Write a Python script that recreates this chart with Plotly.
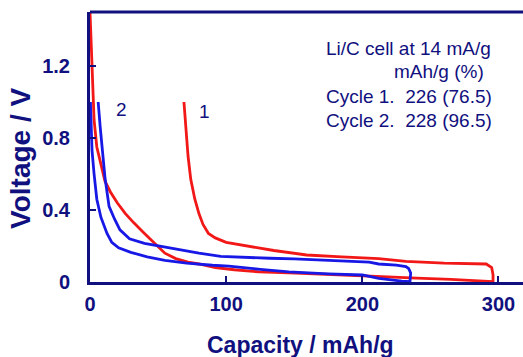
import plotly.graph_objects as go

# Cycle 1 (red): discharge from open circuit down to 0 V, then charge back up
c1_cap = [0, 1, 2, 3, 5, 8, 11, 15, 20, 26, 32, 40, 47, 55, 63, 72, 80, 92, 106,
          124, 151, 180, 212, 240, 265, 280, 294, 296,
          296, 295, 291, 260, 232, 212, 185, 159, 135, 124, 108, 100, 92, 87,
          83, 80, 77, 74, 72, 70.5, 69]
c1_volt = [1.5, 1.3, 1.1, 0.9, 0.75, 0.65, 0.56, 0.5, 0.44, 0.38, 0.33, 0.27, 0.22,
           0.16, 0.13, 0.11, 0.1, 0.08, 0.068, 0.056, 0.05, 0.04, 0.028, 0.022,
           0.015, 0.01, 0.003, 0.002,
           0.04, 0.08, 0.1, 0.105, 0.115, 0.13, 0.14, 0.15, 0.175, 0.19, 0.21,
           0.22, 0.245, 0.27, 0.32, 0.38, 0.46, 0.57, 0.7, 0.85, 1.0]

# Cycle 2 (blue)
c2_cap = [0.3, 1, 1.5, 3, 5, 8, 12.5, 16, 21, 30, 42, 55, 71, 90, 102, 125, 146,
          175, 200, 212, 222, 229, 235,
          235.5, 234, 232, 225, 212, 205, 180, 150, 132, 108, 96, 80, 59, 40,
          29, 22, 18, 14, 11, 9, 7.5, 6]
c2_volt = [1.0, 0.85, 0.73, 0.6, 0.46, 0.36, 0.27, 0.22, 0.19, 0.165, 0.14, 0.12,
           0.105, 0.093, 0.088, 0.07, 0.056, 0.045, 0.039, 0.02, 0.01, 0.005, 0.002,
           0.05, 0.075, 0.085, 0.094, 0.1, 0.11, 0.12, 0.128, 0.132, 0.14, 0.142,
           0.16, 0.19, 0.215, 0.24, 0.29, 0.35, 0.42, 0.58, 0.73, 0.86, 1.0]

x_ticks = [0, 100, 200, 300]
y_ticks = [0, 0.4, 0.8, 1.2]
y_tick_text = ["0", "0.4", "0.8", "1.2"]

x_title = "Capacity / mAh/g"
y_title = "Voltage / V"
info_lines = ["Li/C cell at 14 mA/g", "mAh/g (%)",
              "Cycle 1.  226 (76.5)", "Cycle 2.  228 (96.5)"]

NAVY = "#10107e"
RED = "#f21818"
BLUE = "#1818e6"
FONT = "Liberation Sans, Arial, sans-serif"

fig = go.Figure()
fig.add_trace(go.Scatter(x=c1_cap, y=c1_volt, mode="lines",
                         line=dict(color=RED, width=2.8), hoverinfo="skip"))
fig.add_trace(go.Scatter(x=c2_cap, y=c2_volt, mode="lines",
                         line=dict(color=BLUE, width=2.8), hoverinfo="skip"))

tick_font = dict(family=FONT, size=20, color=NAVY, weight="bold")

fig.update_layout(
    width=523, height=357,
    margin=dict(l=90, r=0, t=12, b=75),
    paper_bgcolor="white", plot_bgcolor="white",
    showlegend=False,
    xaxis=dict(range=[0, 318], tickvals=x_ticks, ticks="inside", ticklen=6,
               tickwidth=2, tickcolor=NAVY, showgrid=False, zeroline=False,
               showline=True, linecolor=NAVY, linewidth=3,
               tickfont=tick_font, ticklabelstandoff=2),
    yaxis=dict(range=[0, 1.5], tickvals=y_ticks, ticktext=y_tick_text,
               ticks="inside", ticklen=6, tickwidth=2, tickcolor=NAVY,
               showgrid=False, zeroline=False, showline=True, linecolor=NAVY,
               linewidth=3, tickfont=tick_font, ticklabelstandoff=13),
)

# top frame line
fig.add_shape(type="line", xref="paper", yref="paper", x0=0, x1=1, y0=1, y1=1,
              line=dict(color=NAVY, width=3))

# axis titles
fig.add_annotation(xref="paper", yref="paper", x=0.485, y=-0.233,
                   xanchor="center", yanchor="middle",
                   text=f"<b>{x_title}</b>", showarrow=False,
                   font=dict(family=FONT, size=23, color=NAVY))
fig.add_annotation(xref="paper", yref="paper", x=-0.162, y=0.459,
                   xanchor="center", yanchor="middle",
                   text=f"<b>{y_title}</b>", showarrow=False, textangle=-90,
                   font=dict(family=FONT, size=28, color=NAVY))

label_font = dict(family=FONT, size=19, color=NAVY)
fig.add_annotation(x=23, y=0.96, text="2", showarrow=False, font=label_font)
fig.add_annotation(x=84, y=0.95, text="1", showarrow=False, font=label_font)

info_font = dict(family=FONT, size=19, color=NAVY)
info_y = [1.30, 1.167, 1.033, 0.9]
fig.add_annotation(x=172, y=info_y[0], text=info_lines[0], showarrow=False,
                   xanchor="left", font=info_font)
fig.add_annotation(x=256, y=info_y[1], text=info_lines[1], showarrow=False,
                   xanchor="center", font=info_font)
fig.add_annotation(x=172, y=info_y[2], text=info_lines[2], showarrow=False,
                   xanchor="left", font=info_font)
fig.add_annotation(x=172, y=info_y[3], text=info_lines[3], showarrow=False,
                   xanchor="left", font=info_font)

fig.write_html("out.html")
